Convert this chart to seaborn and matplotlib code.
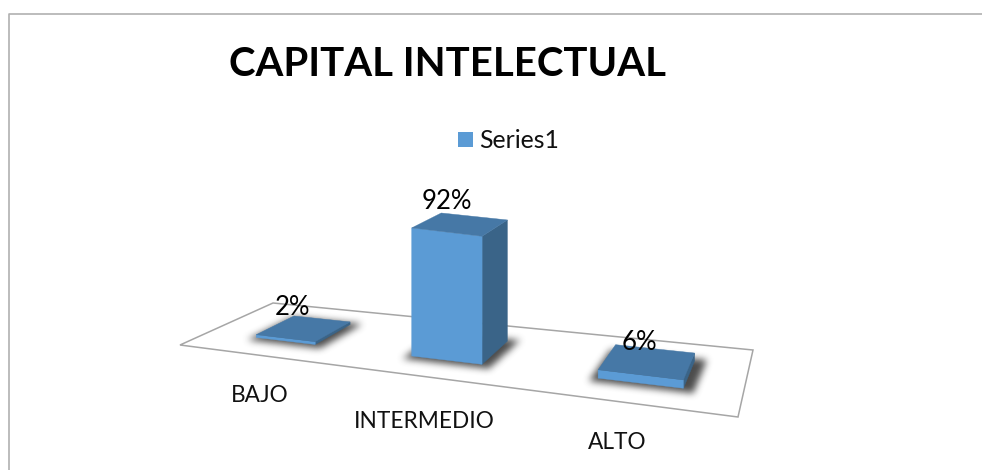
import numpy as np
import pandas as pd
import matplotlib
matplotlib.use("Agg")
import matplotlib.pyplot as plt
from matplotlib.patches import Polygon, Rectangle
from matplotlib.path import Path
import seaborn as sns

# ---- chart data ----
categories = ["BAJO", "INTERMEDIO", "ALTO"]
values = [2, 92, 6]
value_labels = ["2%", "92%", "6%"]
series_name = "Series1"
title_text = "CAPITAL INTELECTUAL"

# ---- style ----
W, H = 982, 470
FRONT = "#5B9BD5"
TOP = "#4678A6"
SIDE = "#3A6488"
FLOOR_EDGE = "#A6A6A6"
FRAME = "#B0B0B0"
FONT = ["Lato", "DejaVu Sans"]
# floor plane corners in figure pixels: front-left, front-right, back-right, back-left
FLOOR = np.array([[180, 345], [738, 417], [753, 350], [273, 303]], float)
PX_PER_UNIT = 1.44
BAR_DEPTH = (0.28, 0.71)
CAT_SHIFT = 0.04
VALUE_OFFSETS = [(-12, -21), (-14, -22), (-8, -19)]
CAT_OFFSETS = [(54, 12), (44, 8), (16, -10)]

sns.set_theme(style="white")
plt.rcParams["font.family"] = FONT

fig = plt.figure(figsize=(W / 100, H / 100), dpi=100, facecolor="white")

# seaborn builds the bars on a hidden category/value axes
data_ax = fig.add_axes([0, 0, 1, 1])
df = pd.DataFrame({"categoria": categories, "valor": values})
sns.barplot(data=df, x="categoria", y="valor", color=FRONT, width=0.40, ax=data_ax, errorbar=None)
data_ax.set_xlim(-0.5, 2.5)
data_ax.set_ylim(0, 100)
bars = [(p.get_x(), p.get_width(), p.get_height()) for p in data_ax.patches]
data_ax.set_visible(False)

# pixel overlay for the perspective rendering
ax = fig.add_axes([0, 0, 1, 1])
ax.set_xlim(0, W)
ax.set_ylim(H, 0)
ax.axis("off")


def homography(dst):
    src = np.array([[0, 0], [1, 0], [1, 1], [0, 1]], float)
    A, b = [], []
    for (u, v), (x, y) in zip(src, dst):
        A.append([u, v, 1, 0, 0, 0, -u * x, -v * x])
        A.append([0, 0, 0, u, v, 1, -u * y, -v * y])
        b += [x, y]
    return np.append(np.linalg.solve(np.array(A), np.array(b)), 1).reshape(3, 3)


HM = homography(FLOOR)


def project(cat_x, depth, value=0.0):
    """category position, depth on the floor and bar value -> pixel."""
    u = (cat_x + 0.5 + CAT_SHIFT) / 3
    p = HM @ np.array([u, depth, 1.0])
    return np.array([p[0] / p[2], p[1] / p[2] - value * PX_PER_UNIT * (1 - 0.12 * depth)])


# frame: left and top edges only
ax.plot([9.5, 9.5, W], [H, 14, 14], color=FRAME, lw=1.2, solid_capstyle="butt")

# floor
ax.add_patch(Polygon(FLOOR, closed=True, fc="white", ec=FLOOR_EDGE, lw=1.1, zorder=1))

# soft shadows
yy, xx = np.mgrid[0:H, 0:W]
pts = np.column_stack([xx.ravel() + 0.5, yy.ravel() + 0.5])
mask = np.zeros((H, W))
d0, d1 = BAR_DEPTH
for x0, w, _ in bars:
    poly = np.array([project(x0, d0), project(x0 + w, d0), project(x0 + w, d1), project(x0, d1)])
    poly = poly.mean(axis=0) + (poly - poly.mean(axis=0)) * 1.22 + np.array([2, 1])
    mask += Path(poly).contains_points(pts).reshape(H, W)


def blur(a, r):
    k = np.ones(2 * r + 1) / (2 * r + 1)
    for _ in range(3):
        a = np.apply_along_axis(lambda m: np.convolve(m, k, mode="same"), 0, a)
        a = np.apply_along_axis(lambda m: np.convolve(m, k, mode="same"), 1, a)
    return a


shadow = np.clip(blur(mask[190:410], 3), 0, 1)
rgba = np.zeros((220, W, 4))
rgba[..., 3] = shadow * 0.9
rgba[..., :3] = 0.22
ax.imshow(rgba, extent=(0, W, 410, 190), zorder=2, interpolation="bilinear", aspect="auto")
ax.set_xlim(0, W)
ax.set_ylim(H, 0)

# 3D bars
for x0, w, h in bars:
    x1 = x0 + w
    fl, fr = project(x0, d0), project(x1, d0)
    br = project(x1, d1)
    tfl, tfr = project(x0, d0, h), project(x1, d0, h)
    tbl, tbr = project(x0, d1, h), project(x1, d1, h)
    ax.add_patch(Polygon([fr, br, tbr, tfr], fc=SIDE, ec=SIDE, lw=0.3, zorder=3))
    ax.add_patch(Polygon([fl, fr, tfr, tfl], fc=FRONT, ec=FRONT, lw=0.3, zorder=4))
    ax.add_patch(Polygon([tfl, tfr, tbr, tbl], fc=TOP, ec=TOP, lw=0.3, zorder=5))

# value labels, over each bar's top
for (x0, w, h), lab, (dx, dy) in zip(bars, value_labels, VALUE_OFFSETS):
    c = project(x0 + w / 2, (d0 + d1) / 2, h)
    ax.text(c[0] + dx, c[1] + dy, lab, ha="center", va="center", fontsize=18.5, color="black", zorder=6)

# category labels below the floor's front edge
for i, (cat, (dx, dy)) in enumerate(zip(categories, CAT_OFFSETS)):
    c = project(i, -0.48 - 0.05 * i)
    ax.text(c[0] + dx, c[1] + dy, cat, ha="center", va="center", fontsize=16.3, color="#111111", zorder=6)

# title and legend
ax.text(447.5, 65, title_text, ha="center", va="center", fontsize=28.9, fontweight="bold", color="black")
ax.add_patch(Rectangle((458, 132), 15, 15, fc=FRONT, ec="none"))
ax.text(479, 140, series_name, ha="left", va="center", fontsize=17.9, color="#111111")

fig.savefig("out.png", dpi=100, facecolor="white")
